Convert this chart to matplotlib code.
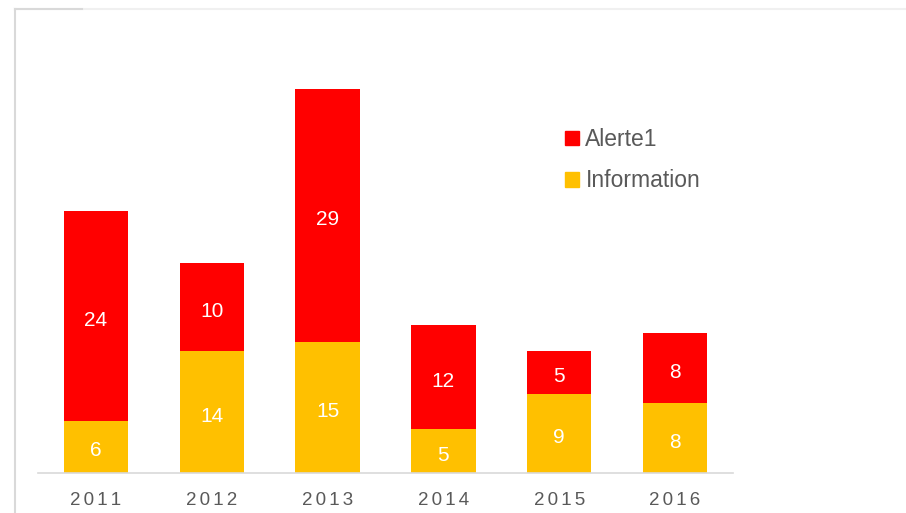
import matplotlib.pyplot as plt
from matplotlib.patches import Patch
from matplotlib.lines import Line2D

years = ['2011', '2012', '2013', '2014', '2015', '2016']
information = [6, 14, 15, 5, 9, 8]
alerte = [24, 10, 29, 12, 5, 8]

red = '#ff0000'
yellow = '#ffc000'
grey_text = '#595959'

plt.rcParams['font.family'] = ['Liberation Sans', 'DejaVu Sans']

fig = plt.figure(figsize=(9.06, 5.13), dpi=100)
ax = fig.add_axes([38 / 906, 40 / 513, 695 / 906, 436.5 / 513])

x = range(len(years))
ax.bar(x, information, width=0.555, color=yellow, zorder=2)
ax.bar(x, alerte, width=0.555, bottom=information, color=red, zorder=2)

for i in x:
    ax.annotate(str(information[i]), (i, information[i] / 2), xytext=(0, -3),
                textcoords='offset points', ha='center', va='center',
                color='white', fontsize=15)
    ax.annotate(str(alerte[i]), (i, information[i] + alerte[i] / 2), xytext=(0, -3),
                textcoords='offset points', ha='center', va='center',
                color='white', fontsize=15)

ax.set_xlim(-0.5, len(years) - 0.5)
ax.set_ylim(0, 50)
ax.set_xticks(list(x))
ax.set_xticklabels(['\u2006'.join(y) for y in years], color=grey_text, fontsize=13.5)
ax.tick_params(axis='x', length=0, pad=14)
ax.set_yticks([])
for side in ['top', 'right', 'left']:
    ax.spines[side].set_visible(False)
ax.spines['bottom'].set_color('#d9d9d9')
ax.spines['bottom'].set_linewidth(1.2)

handles = [Patch(color=red, label='Alerte1'), Patch(color=yellow, label='Information')]
ax.legend(handles=handles, loc='upper left', bbox_to_anchor=(0.758, 0.79), frameon=False,
          fontsize=16.5, handlelength=0.6, handleheight=0.6, handletextpad=0.3,
          labelspacing=0.8, labelcolor=grey_text, borderpad=0, borderaxespad=0)

# outer frame of the chart area
fig.add_artist(Line2D([15 / 906, 1], [1 - 9 / 513] * 2, color='#f0f0f0', lw=1.5,
                      transform=fig.transFigure))
fig.add_artist(Line2D([15 / 906, 82 / 906], [1 - 9 / 513] * 2, color='#d9d9d9', lw=1.5,
                      transform=fig.transFigure))
fig.add_artist(Line2D([15 / 906] * 2, [0, 1 - 9 / 513], color='#d9d9d9', lw=1.5,
                      transform=fig.transFigure))

fig.savefig('out.png', dpi=100)
